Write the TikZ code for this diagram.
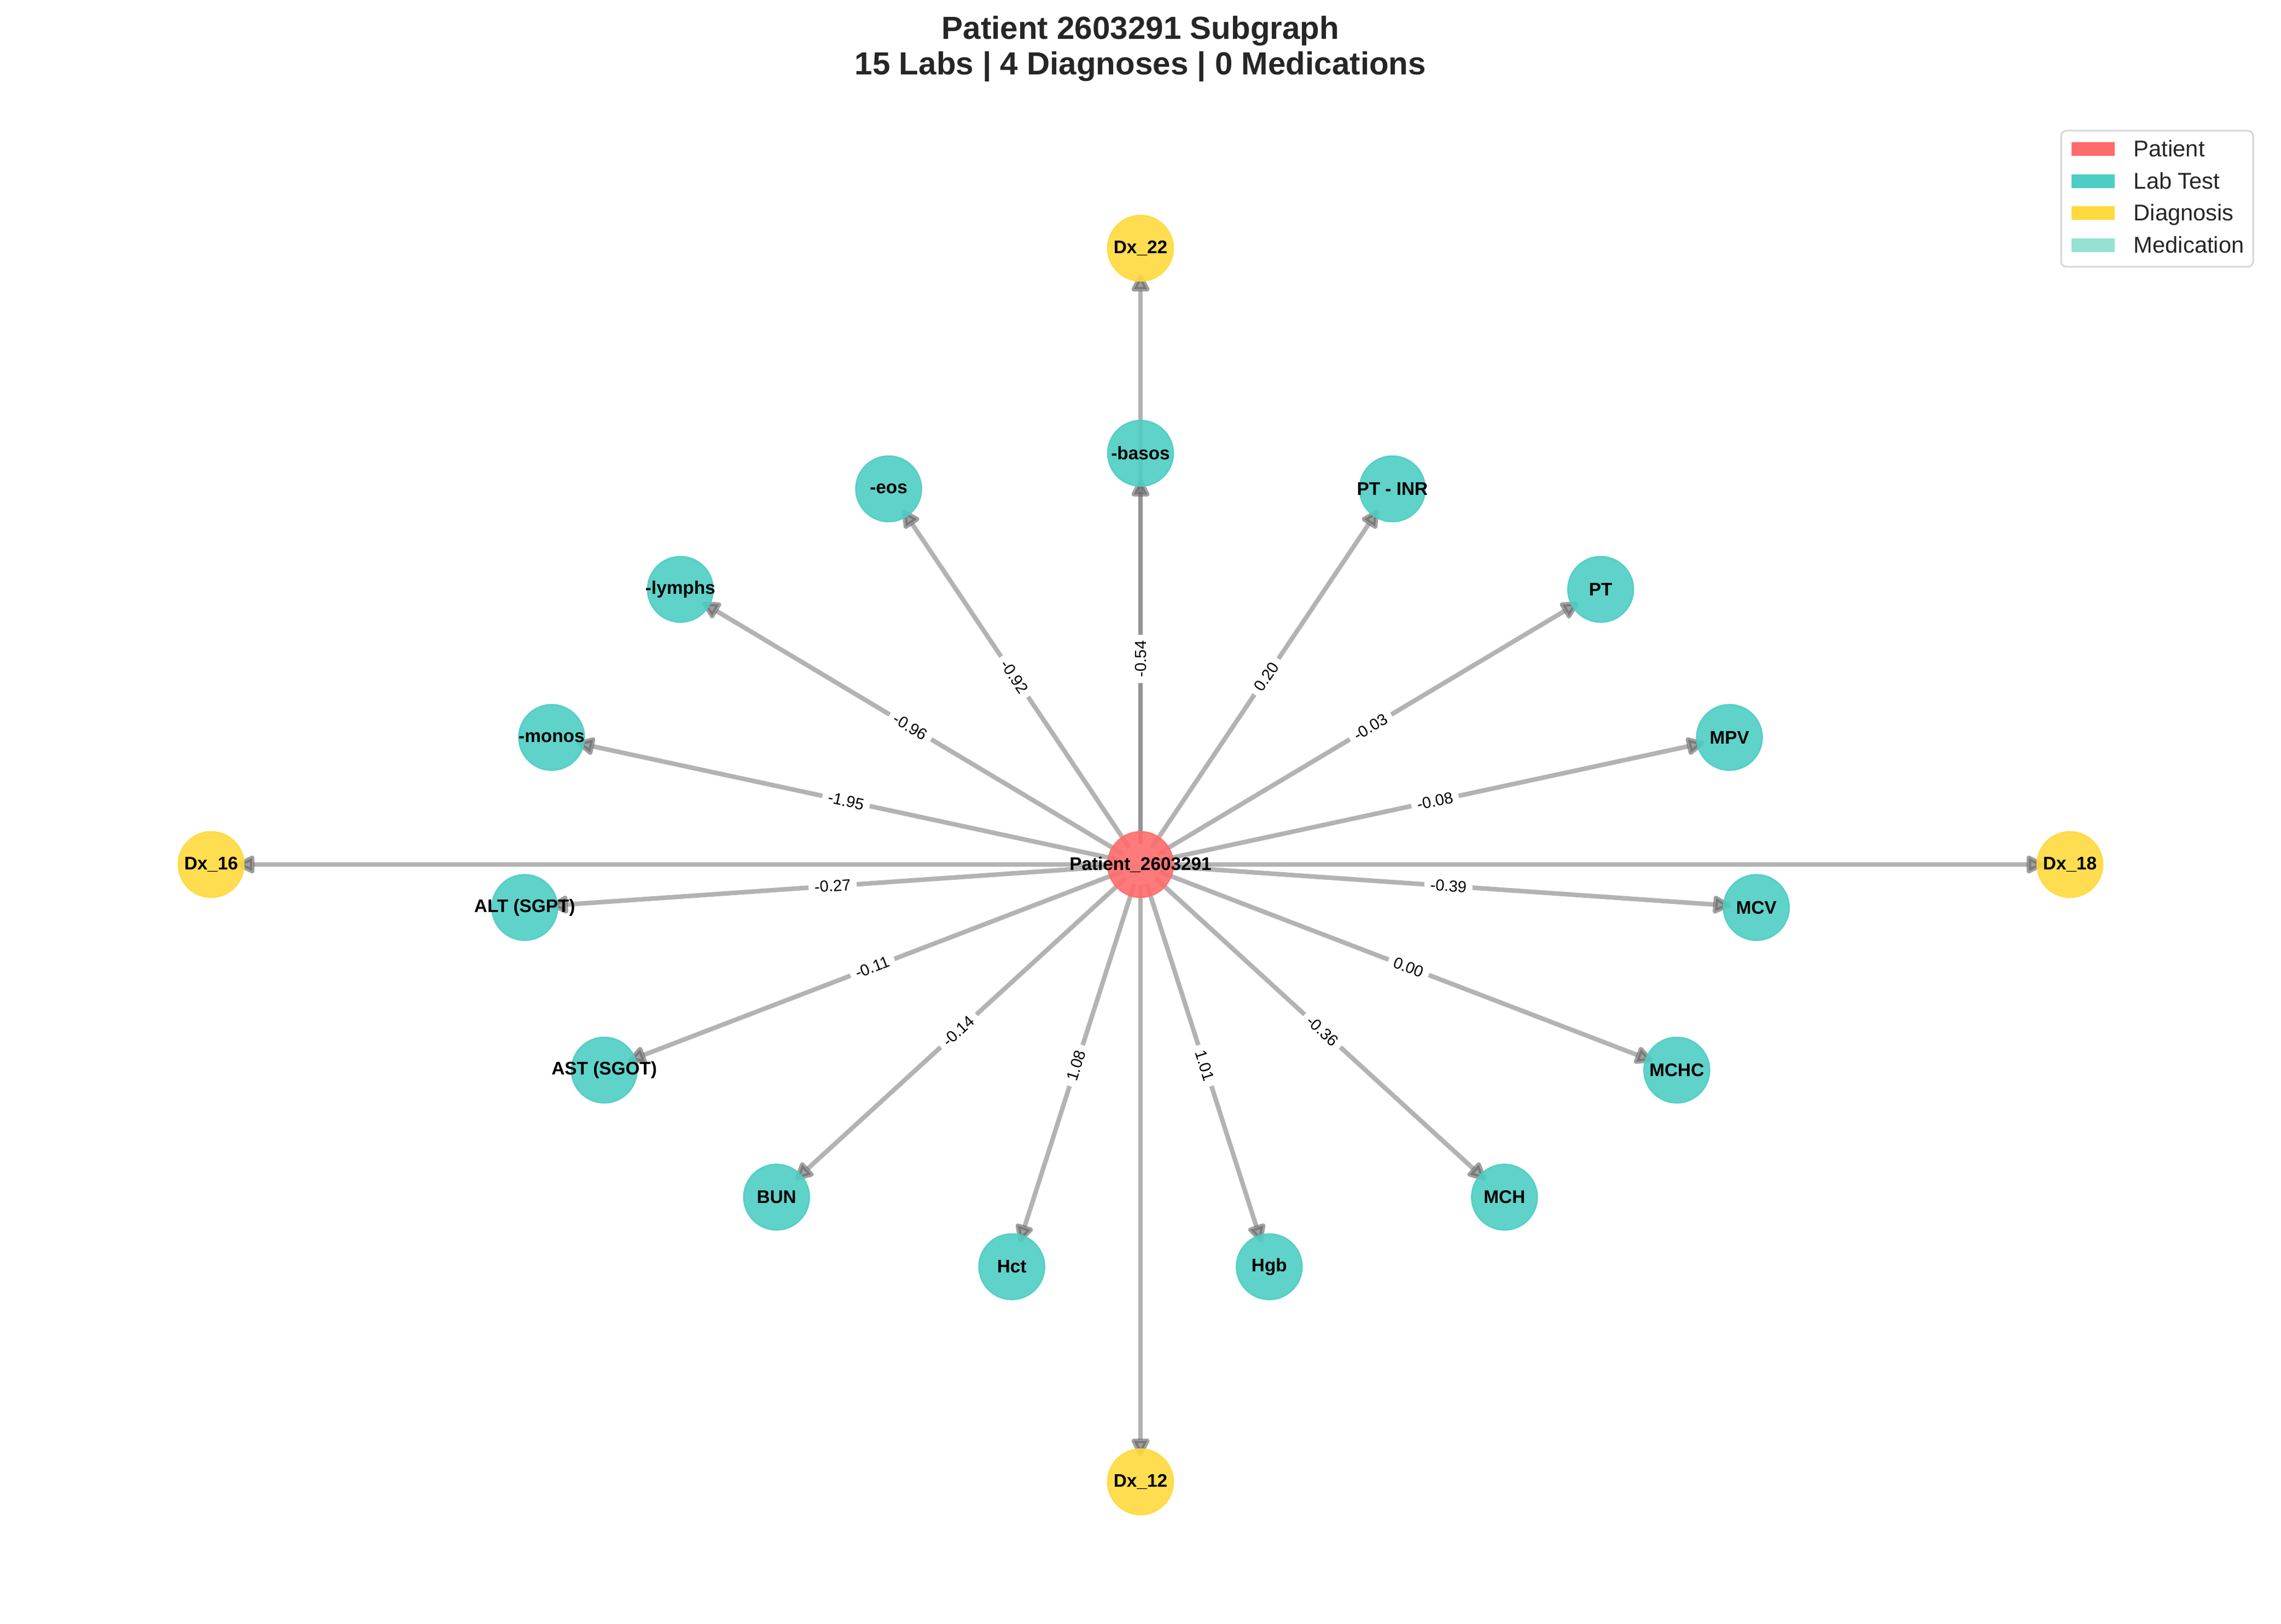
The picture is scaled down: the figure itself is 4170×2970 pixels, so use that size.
\documentclass[tikz,border=0pt]{standalone}
\usepackage{fontspec}
\setmainfont{Liberation Sans}
\usetikzlibrary{arrows.meta,backgrounds}
\definecolor{patc}{HTML}{FF6B6B}
\definecolor{labc}{HTML}{4ECDC4}
\definecolor{dxc}{HTML}{FFD93D}
\definecolor{medc}{HTML}{95E1D3}
\definecolor{edgec}{HTML}{808080}
\definecolor{tipc}{HTML}{606060}
\definecolor{titlec}{HTML}{262626}
\definecolor{legc}{HTML}{D6D6D6}
\newcommand\mknode[4]{\node[#1] (#2) at #3 {}; \node[nlab] (#2l) at (#2) {#4};}
\begin{document}
\begin{tikzpicture}[x=0.24bp,y=-0.24bp,
  gnode/.style={circle, minimum size=28.8bp, inner sep=0pt, fill opacity=0.9, draw opacity=0.9, line width=0.6bp},
  patnode/.style={gnode, fill=patc, draw=patc},
  labnode/.style={gnode, fill=labc, draw=labc},
  dxnode/.style={gnode, fill=dxc, draw=dxc},
  nlab/.style={inner sep=0pt, text=black, text opacity=1, font=\fontsize{8bp}{9bp}\selectfont\bfseries},
  edge/.style={draw=edgec, opacity=0.6, line width=2bp, -{Triangle[length=9bp,width=8.5bp,round,color=tipc]}, shorten <=-5.8bp, shorten >=-3.4bp},
  elab/.style={sloped, pos=0.5, fill=white, rounded corners=1.5bp, inner xsep=2.6bp, inner ysep=1.2bp, text=black, font=\fontsize{7bp}{8bp}\selectfont},
  ttl/.style={anchor=base, inner sep=0pt, text=titlec, font=\fontsize{14bp}{16bp}\selectfont\bfseries},
  legtxt/.style={anchor=base west, inner sep=0pt, text=titlec, font=\fontsize{10bp}{12bp}\selectfont},
]
\useasboundingbox (0,0) rectangle (4170,2970);

% title
\node[ttl] (t1) at (2085,72) {Patient 2603291 Subgraph};
\node[ttl] (t2) at (2085,137) {15 Labs | 4 Diagnoses | 0 Medications};

% nodes
\mknode{patnode}{P}{(2085,1581)}{Patient\_2603291}
\mknode{dxnode}{dx22}{(2085,454)}{Dx\_22}
\mknode{dxnode}{dx12}{(2085,2710)}{Dx\_12}
\mknode{dxnode}{dx16}{(386,1581)}{Dx\_16}
\mknode{dxnode}{dx18}{(3784,1581)}{Dx\_18}
\foreach \n/\a/\t in {basos/90/-basos, eos/114/-eos, lymphs/138/-lymphs, monos/162/-monos,
  alt/186/ALT (SGPT), ast/210/AST (SGOT), bun/234/BUN, hct/258/Hct, hgb/282/Hgb,
  mch/306/MCH, mchc/330/MCHC, mcv/354/MCV, mpv/18/MPV, pt/42/PT, ptinr/66/PT - INR}
{\mknode{labnode}{\n}{({2085+1132*cos(\a)},{1581-752*sin(\a)})}{\t}}

% edges
\begin{scope}[on background layer]
\foreach \t in {dx22,dx12,dx16,dx18,basos,eos,lymphs,monos,alt,ast,bun,hct,hgb,mch,mchc,mcv,mpv,pt,ptinr}
  \draw[edge] (P) -- (\t);
\foreach \t/\v in {basos/-0.54, eos/-0.92, lymphs/-0.96, monos/-1.95, alt/-0.27, ast/-0.11,
  bun/-0.14, hct/1.08, hgb/1.01, mch/-0.36, mchc/0.00, mcv/-0.39, mpv/-0.08, pt/-0.03, ptinr/0.20}
  \path (P) -- node[elab] {\v} (\t);
\end{scope}

% legend
\draw[legc, line width=0.72bp, fill=white, rounded corners=2.4bp] (3768,239) rectangle (4119,488);
\fill[patc] (3787,260) rectangle (3866,285);
\fill[labc] (3787,319) rectangle (3866,344);
\fill[dxc] (3787,377) rectangle (3866,402);
\fill[medc] (3787,436) rectangle (3866,461);
\node[legtxt] (lg1) at (3900,287) {Patient};
\node[legtxt] (lg2) at (3900,346) {Lab Test};
\node[legtxt] (lg3) at (3900,404) {Diagnosis};
\node[legtxt] (lg4) at (3900,463) {Medication};
\end{tikzpicture}
\end{document}
